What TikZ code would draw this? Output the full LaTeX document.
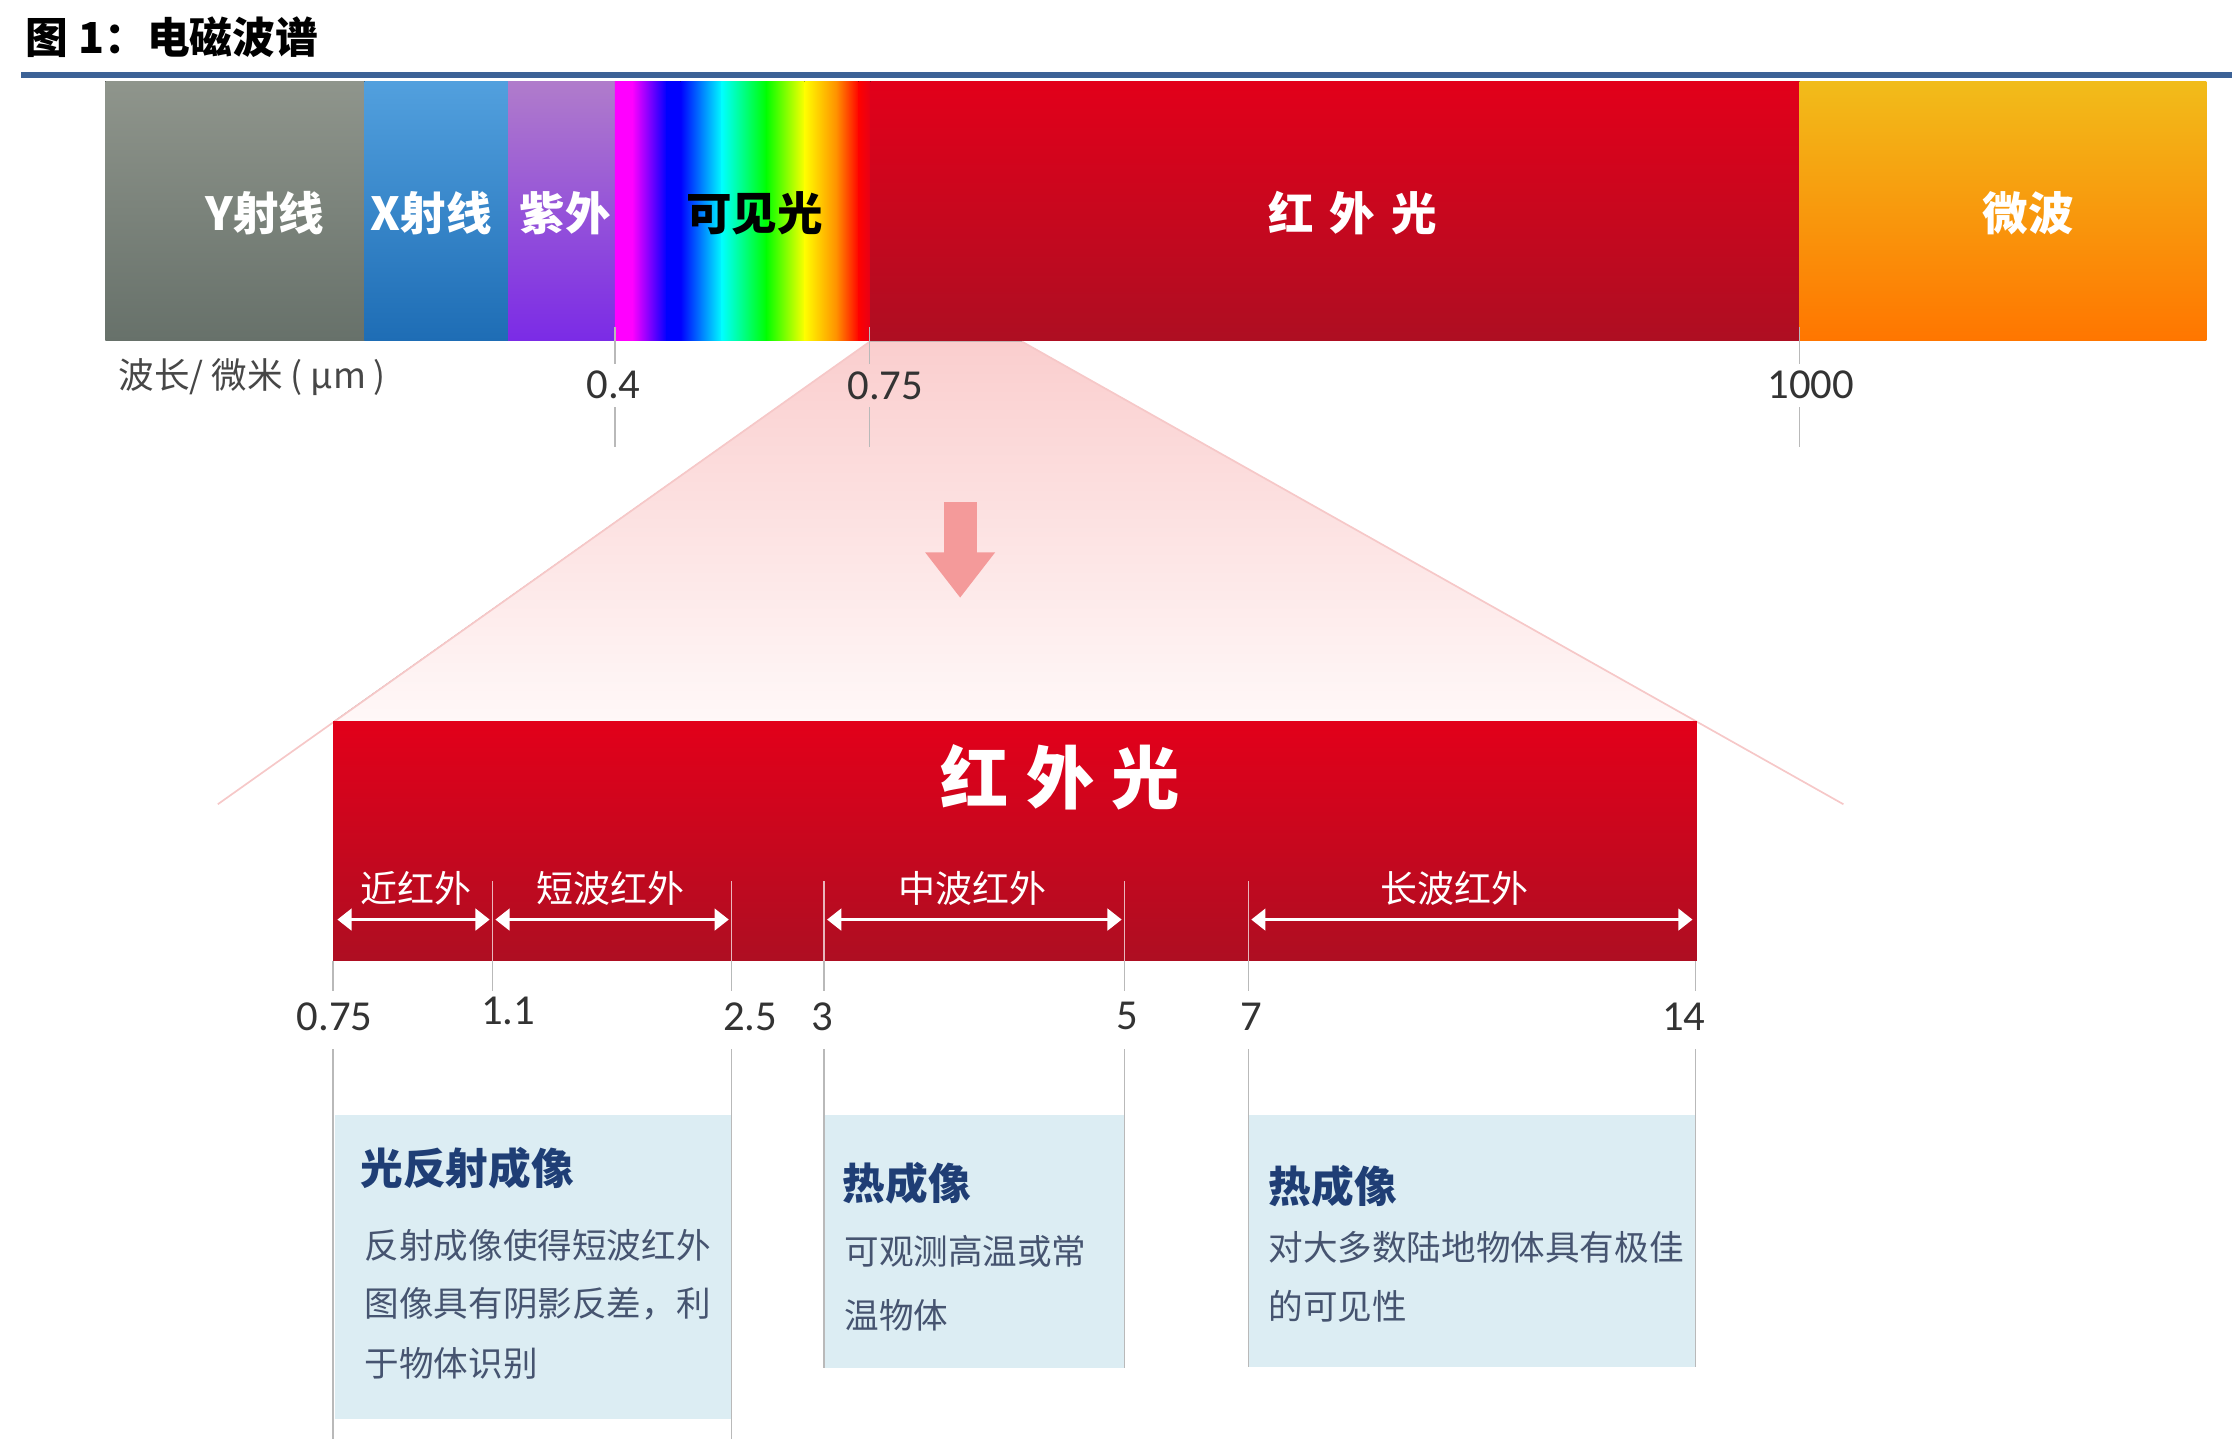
\documentclass[tikz,border=0pt]{standalone}
\usepackage{fontspec}
\usetikzlibrary{arrows.meta}
\setmainfont{Noto Sans CJK SC}
\newfontfamily\numfont{Carlito}

\definecolor{rulebl}{RGB}{60,98,150}
\definecolor{gamtop}{RGB}{143,149,140}
\definecolor{gambot}{RGB}{103,113,106}
\definecolor{xtop}{RGB}{82,160,222}
\definecolor{xbot}{RGB}{30,109,181}
\definecolor{uvtop}{RGB}{176,124,203}
\definecolor{uvbot}{RGB}{123,43,230}
\definecolor{irtop}{RGB}{226,0,26}
\definecolor{irbot}{RGB}{174,14,34}
\definecolor{mwtop}{RGB}{241,188,26}
\definecolor{mwbot}{RGB}{255,118,0}
\definecolor{rbMag}{RGB}{255,0,255}
\definecolor{rbBlu}{RGB}{0,0,255}
\definecolor{rbCya}{RGB}{0,255,255}
\definecolor{rbGrn}{RGB}{0,255,0}
\definecolor{rbYel}{RGB}{255,255,0}
\definecolor{rbOra}{RGB}{255,140,0}
\definecolor{rbRed}{RGB}{255,0,0}
\definecolor{funtop}{RGB}{250,206,206}
\definecolor{funbot}{RGB}{255,248,248}
\definecolor{funedge}{RGB}{246,200,200}
\definecolor{arrowpink}{RGB}{244,154,154}
\definecolor{tickgray}{RGB}{185,185,185}
\definecolor{numgray}{RGB}{51,51,51}
\definecolor{boxblue}{RGB}{220,237,243}
\definecolor{boxnavy}{RGB}{31,62,117}
\definecolor{boxgray}{RGB}{70,84,112}

\tikzset{
  bandlabel/.style={text=white, inner sep=0pt, font=\fontsize{32}{32}\selectfont\bfseries},
  sublabel/.style={text=white, inner sep=0pt, font=\fontsize{26}{26}\selectfont},
  numlabel/.style={text=numgray, inner sep=0pt, font=\numfont\fontsize{30}{30}\selectfont},
  tickline/.style={draw=tickgray, line width=1pt},
  barline/.style={draw=white, opacity=0.7, line width=1pt},
  infobox/.style={fill=boxblue},
  boxtitle/.style={text=boxnavy, anchor=west, inner sep=0pt, font=\fontsize{30}{30}\selectfont\bfseries},
  boxtext/.style={text=boxgray, anchor=west, inner sep=0pt, font=\fontsize{24.3}{24.3}\selectfont},
  spanarrow/.style={draw=white, line width=2.5pt, {Triangle[length=10pt,width=15pt]}-{Triangle[length=10pt,width=15pt]}}
}

\begin{document}
\begin{tikzpicture}[x=1pt, y=-1pt]
  \useasboundingbox (0,0) rectangle (1568,1017);

  % title and rule
  \node[anchor=west, inner sep=0pt, font=\fontsize{30}{30}\selectfont\bfseries] (title) at (18,26) {图 1：电磁波谱};
  \draw[rulebl, line width=4.5pt] (15,52.8) -- (1568,52.8);

  % spectrum bands
  \fill[top color=gamtop, bottom color=gambot] (74,57) rectangle (256.5,239);
  \fill[top color=xtop, bottom color=xbot] (256,57) rectangle (357.5,239);
  \fill[top color=uvtop, bottom color=uvbot] (357,57) rectangle (432.5,239);
  \foreach \xa/\xb/\ca/\cb in {432/444/rbMag/rbMag, 444/468/rbMag/rbBlu, 468/478/rbBlu/rbBlu,
      478/507/rbBlu/rbCya, 507/538/rbCya/rbGrn, 538/565/rbGrn/rbYel, 565/588/rbYel/rbOra,
      588/603/rbOra/rbRed, 603/612/rbRed/irtop}
    \fill[left color=\ca, right color=\cb] (\xa,57) rectangle (\xb+0.6,239);
  \fill[top color=irtop, bottom color=irbot] (611.5,57) rectangle (1264.5,239);
  \fill[top color=mwtop, bottom color=mwbot] (1264,57) rectangle (1550,239);

  \node[bandlabel] (gamma) at (186,150) {Y射线};
  \node[bandlabel] (xray) at (303,150) {X射线};
  \node[bandlabel] (uv) at (397,150) {紫外};
  \node[bandlabel, text=black] (visible) at (530,150) {可见光};
  \node[bandlabel] (ir) at (950,150) {红\hspace{0.35em}外\hspace{0.35em}光};
  \node[bandlabel] (micro) at (1425,150) {微波};

  % zoom funnel
  \fill[top color=funtop, bottom color=funbot] (611,240) -- (718,240) -- (1192,507) -- (234,507) -- cycle;
  \draw[funedge, line width=1.2pt] (611,240) -- (153,565);
  \draw[funedge, line width=1.2pt] (718,240) -- (1295,565);
  \draw[arrowpink, line width=23pt, -{Triangle[length=32pt,width=47pt]}] (674.5,353) -- (674.5,420);

  % wavelength axis
  \node[anchor=west, inner sep=0pt, text=numgray!90, font=\fontsize{25}{25}\selectfont] (axis) at (83,265) {波长/ 微米 ( μm )};
  \foreach \x in {432,611,1264} {
    \draw[tickline] (\x,230) -- (\x,256);
    \draw[tickline] (\x,286) -- (\x,314);
  }
  \node[numlabel] (w04) at (431,270) {0.4};
  \node[numlabel] (w075) at (622,271) {0.75};
  \node[numlabel] (w1000) at (1272,270) {1000};

  % infrared bar
  \fill[top color=irtop, bottom color=irbot] (234,507) rectangle (1192,675);
  \node[text=white, inner sep=0pt, font=\fontsize{48}{48}\selectfont\bfseries] (irtitle) at (745,546)
    {红\hspace{0.25em}外\hspace{0.25em}光};
  \foreach \x in {346,514,579,790,877}
    \draw[barline] (\x,619) -- (\x,675);
  \foreach \x in {234,346,514,579,790,877,1191}
    \draw[tickline] (\x,675) -- (\x,696);

  \node[sublabel] (near) at (292,624) {近红外};
  \node[sublabel] (swir) at (429,624) {短波红外};
  \node[sublabel] (mwir) at (683,624) {中波红外};
  \node[sublabel] (lwir) at (1022,624) {长波红外};
  \draw[spanarrow] (237,646) -- (344,646);
  \draw[spanarrow] (348,646) -- (512,646);
  \draw[spanarrow] (581,646) -- (788,646);
  \draw[spanarrow] (879,646) -- (1189,646);

  \node[numlabel] (b075) at (235,714) {0.75};
  \node[numlabel] (b11) at (357,710) {1.1};
  \node[numlabel] (b25) at (527,714) {2.5};
  \node[numlabel] (b3) at (578,714) {3};
  \node[numlabel] (b5) at (792,714) {5};
  \node[numlabel] (b7) at (879,714) {7};
  \node[numlabel] (b14) at (1183,714) {14};

  % imaging boxes
  \fill[infobox] (235,783) rectangle (514,997);
  \fill[infobox] (579,783) rectangle (790,961);
  \fill[infobox] (877,783) rectangle (1191,960);
  \foreach \x/\ya in {234/1011,514/1011,579/961,790/961,877/960,1191/960}
    \draw[tickline] (\x,737) -- (\x,\ya);

  \node[boxtitle] (reflect) at (253,821) {光反射成像};
  \node[boxtext] (reflect1) at (256,875) {反射成像使得短波红外};
  \node[boxtext] (reflect2) at (256,916) {图像具有阴影反差，利};
  \node[boxtext] (reflect3) at (256,958) {于物体识别};

  \node[boxtitle] (thermA) at (592,831) {热成像};
  \node[boxtext] (thermA1) at (593,879) {可观测高温或常};
  \node[boxtext] (thermA2) at (593,924) {温物体};

  \node[boxtitle] (thermB) at (891,833) {热成像};
  \node[boxtext] (thermB1) at (891,876) {对大多数陆地物体具有极佳};
  \node[boxtext] (thermB2) at (891,918) {的可见性};
\end{tikzpicture}
\end{document}
